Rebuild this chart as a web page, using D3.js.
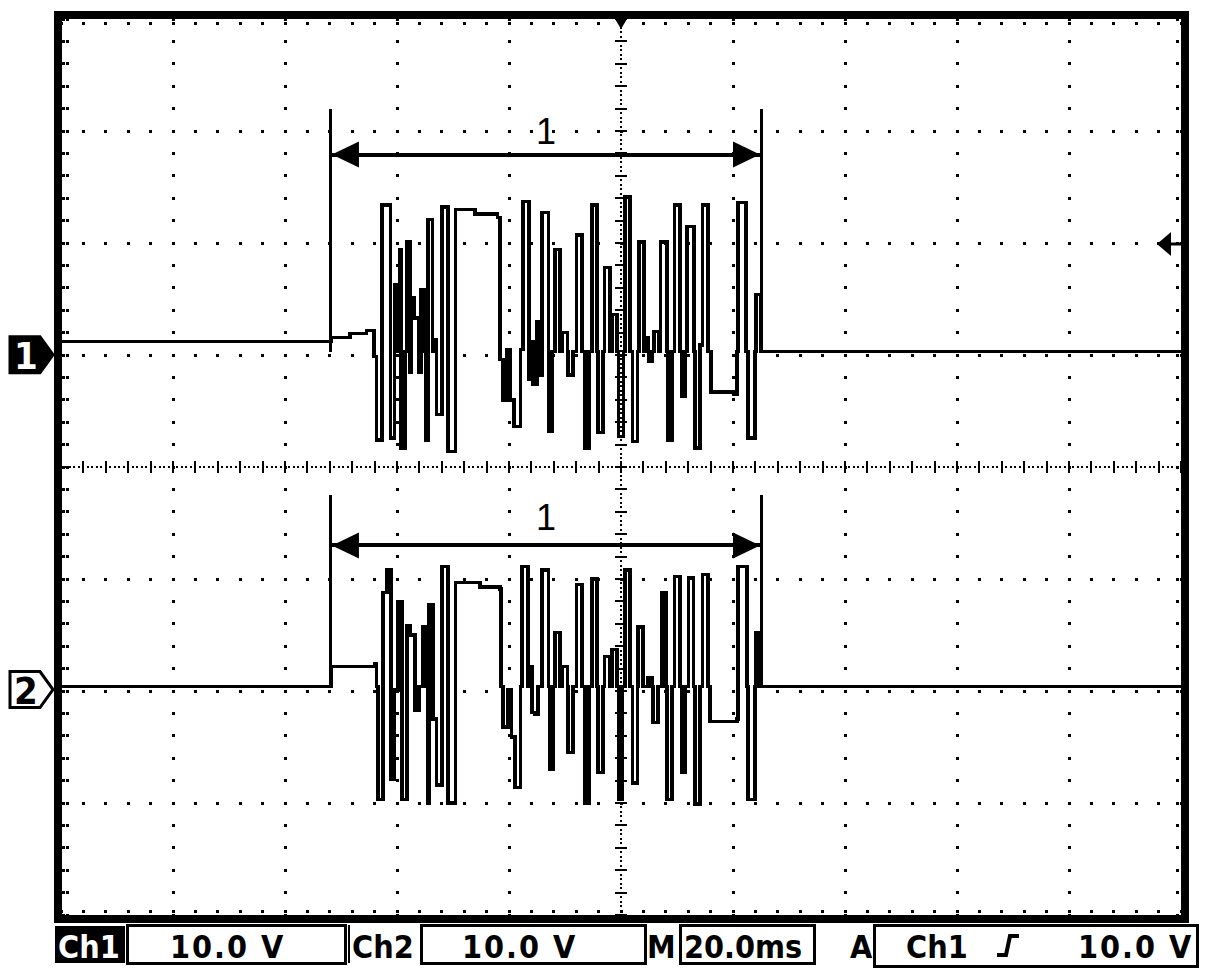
<!DOCTYPE html>
<html><head><meta charset="utf-8">
<script src="https://cdn.jsdelivr.net/npm/d3@7"></script>
<style>html,body{margin:0;padding:0;background:#fff;}svg{display:block;}</style>
</head><body>
<script>
// ---- data (time in ms, voltage in V) ----
const ch1Time = [0,48.2,51.6,54.5,55.9,56.3,57.3,58.8,59.5,60.0,60.4,60.7,61.4,61.8,62.3,62.5,63.0,63.8,64.3,64.8,65.2,65.5,66.3,66.6,67.0,68.0,69.1,70.4,73.9,77.9,78.4,78.9,79.6,80.2,80.9,82.0,82.5,83.6,83.9,84.3,85.0,85.5,85.9,87.0,87.7,88.2,89.1,89.5,90.4,90.5,91.4,92.1,93.0,93.6,94.3,94.8,95.7,95.9,96.8,97.1,98.0,98.4,99.3,99.5,100.4,100.7,101.6,102.0,102.9,103.2,104.1,104.3,104.8,105.0,105.5,105.9,106.8,107.0,108.2,108.4,109.1,109.5,110.5,110.9,111.4,111.8,113.0,113.2,114.1,114.5,115.5,116.1,120.2,120.7,120.9,122.3,122.7,123.9,124.1,125.0,200];
const ch1Volt = [0.9,1.25,1.6,1.9,-0.45,-7.9,13.1,-7.7,6.0,0,9.1,-8.6,0,9.8,-1.8,4.8,3.0,-1.8,5.5,0,-7.9,11.8,0,1.1,-5.6,12.9,-8.9,12.7,12.3,12.0,-0.7,-4.3,0.2,-4.3,-6.7,0.2,13.4,-2.5,0.9,-2.9,2.7,-2.1,12.4,-7.1,0,9.1,0,1.7,0,-2.1,0,10.4,0,-8.6,0,13.1,0,-7.2,0,7.5,0,3.3,0,-7.6,0,13.8,0,-8.0,0,9.8,0,1.25,0,-0.9,0,1.8,0,9.8,0,-7.9,0,13.1,0,-4.0,0,11.2,0,-8.6,0.6,13.1,0,-3.6,-3.8,0,13.3,0,-7.7,0,5.1,0,0];
const ch2Time = [0,48.2,56.1,56.3,56.6,57.5,58.2,58.9,59.6,60.2,60.9,61.8,62.3,63.2,63.9,64.5,65.2,65.4,65.7,66.4,67.1,68.0,69.1,70.4,74.8,78.4,78.6,78.9,79.8,80.4,81.1,82.0,82.3,83.4,83.8,84.1,84.6,85.2,85.9,87.0,87.3,87.9,88.2,89.1,89.5,90.4,90.5,91.4,92.1,93.0,93.6,94.3,94.8,95.7,95.9,96.8,97.1,98.0,98.4,99.3,99.5,100.2,100.7,101.6,102.0,102.9,103.0,103.9,104.8,105.5,105.7,106.6,107.3,108.0,108.2,109.1,109.6,110.5,110.9,111.4,112.0,112.9,113.2,114.1,114.5,115.5,115.9,120.7,120.9,122.5,122.7,123.9,124.1,124.8,200];
const ch2Volt = [0,1.8,2.0,0,-10.1,8.4,10.4,-8.3,-0.3,7.6,-10.1,5.4,4.6,-2.1,0,5.3,0,-10.4,7.3,-2.9,-8.8,10.7,-10.4,9.3,8.9,8.7,0,-3.6,-0.3,-4.5,-9.0,0,10.7,0,1.8,-2.3,-2.5,0,10.4,0,-7.4,0,4.8,0,1.8,0,-5.9,0,9.1,0,-10.4,0,9.6,0,-7.7,0,2.7,0,3.3,0,-10.1,0,10.4,0,-8.6,0,5.3,0,0.8,0,-3.2,0,8.4,0,-10.1,0,9.8,0,-7.7,0,9.7,0,-10.5,0,10.0,0,-3.1,-2.9,10.7,0,-10.1,0,4.8,0,0];
const channelNames = ["Ch1","Ch2"];
const voltsPerDiv = [10,10];
const positionDiv = [1.03,-1.96];
const cursorMs = [48.2,125.0];
const cursorLabel = "1";
const statusLabels = ["Ch1","10.0 V","Ch2","10.0 V","M","20.0ms","A","Ch1","10.0 V"];
const timeRangeMs = [0,200];
const divRange = [-4,4];

// ---- layout ----
const W=1216,H=978;
const svg=d3.select("body").append("svg").attr("width",W).attr("height",H);
svg.append("rect").attr("width",W).attr("height",H).attr("fill","#fff");
const x=d3.scaleLinear().domain(timeRangeMs).range([61,1181]);
const y=d3.scaleLinear().domain(divRange).range([915,19]);
const g=svg.append("g").attr("shape-rendering","crispEdges");

// graticule
const minorX=d3.range(0,200.01,4), minorY=d3.range(-4,4.001,0.2);
const dots=[];
for(let k=1;k<=9;k++){ if(k===5) continue; const t=k*20; minorY.forEach(d=>dots.push([x(t)-1.5,y(d)-1.5,3,3])); }
for(let k=-3;k<=3;k++){ if(k===0) continue; minorX.forEach(t=>dots.push([x(t)-1.5,y(k)-1.5,3,3])); }
// center lines dense dots
d3.range(-4,4.001,0.04).forEach(d=>dots.push([x(100)-1,y(d)-1,2,2]));
d3.range(0,200.01,0.8).forEach(t=>dots.push([x(t)-1,y(0)-1,2,2]));
minorY.forEach(d=>dots.push([x(100)-6,y(d)-1,12,2]));
minorX.forEach(t=>dots.push([x(t)-1,y(0)-6,2,12]));
// border ticks
minorY.forEach(d=>{dots.push([62,y(d)-1.5,3,3]);dots.push([66,y(d)-1.5,3,3]);dots.push([1176,y(d)-1.5,3,3]);});
minorX.forEach(t=>{dots.push([x(t)-1.5,22,3,3]);dots.push([x(t)-1.5,910,3,3]);});
g.selectAll("rect.dot").data(dots).join("rect").attr("class","dot")
 .attr("x",d=>d[0]).attr("y",d=>d[1]).attr("width",d=>d[2]).attr("height",d=>d[3]).attr("fill","#000");

// frame
svg.append("rect").attr("x",57.5).attr("y",15).attr("width",1127.5).attr("height",904)
 .attr("fill","none").attr("stroke","#000").attr("stroke-width",8).attr("shape-rendering","crispEdges");

// trigger markers
svg.append("path").attr("d",`M${x(100)-6},19 L${x(100)+6},19 L${x(100)},29 Z`).attr("fill","#000");
const trigY=244;
svg.append("path").attr("d",`M1157,${trigY} L1171,${trigY-12} L1171,${trigY+12} Z`).attr("fill","#000");
svg.append("line").attr("x1",1170).attr("x2",1181).attr("y1",trigY).attr("y2",trigY).attr("stroke","#000").attr("stroke-width",3);

// traces
const series=[ch1Time.map((t,i)=>[t,ch1Volt[i]]), ch2Time.map((t,i)=>[t,ch2Volt[i]])];
series.forEach((s,ci)=>{
  const line=d3.line().x(d=>x(d[0])).y(d=>y(d[1]/voltsPerDiv[ci]+positionDiv[ci])).curve(d3.curveStepAfter);
  svg.append("path").attr("d",line(s)).attr("fill","none").attr("stroke","#000").attr("stroke-width",3.4)
    .attr("stroke-linejoin","miter").attr("shape-rendering","crispEdges");
});

// cursor brackets
const cursorTop=[3.2,-0.25], arrowDiv=[2.79,-0.70], labelDiv=[3.0,-0.45];
[0,1].forEach(ci=>{
  const base=y(positionDiv[ci]);
  cursorMs.forEach(t=>{
    svg.append("line").attr("x1",x(t)).attr("x2",x(t)).attr("y1",y(cursorTop[ci])).attr("y2",base)
      .attr("stroke","#000").attr("stroke-width",3).attr("shape-rendering","crispEdges");
  });
  const ay=y(arrowDiv[ci]), x0=x(cursorMs[0])+1, x1=x(cursorMs[1])-1;
  svg.append("line").attr("x1",x0).attr("x2",x1).attr("y1",ay).attr("y2",ay).attr("stroke","#000").attr("stroke-width",4).attr("shape-rendering","crispEdges");
  svg.append("path").attr("d",`M${x0},${ay} L${x0+27},${ay-13} L${x0+27},${ay+13} Z`).attr("fill","#000");
  svg.append("path").attr("d",`M${x1},${ay} L${x1-27},${ay-13} L${x1-27},${ay+13} Z`).attr("fill","#000");
  svg.append("text").attr("x",x((cursorMs[0]+cursorMs[1])/2)).attr("y",y(labelDiv[ci])+13)
    .attr("text-anchor","middle").attr("font-family","Liberation Sans, Arial, sans-serif")
    .attr("font-size",36).text(cursorLabel);
});

// channel ground markers
[0,1].forEach(ci=>{
  const cy=y(positionDiv[ci])+3;
  const p=`M10,${cy-18} L40,${cy-18} L53,${cy} L40,${cy+18} L10,${cy+18} Z`;
  svg.append("path").attr("d",p).attr("fill",ci===0?"#000":"#fff").attr("stroke","#000").attr("stroke-width",3);
  svg.append("text").attr("x",26).attr("y",cy+14).attr("text-anchor","middle")
    .attr("font-family","DejaVu Sans Condensed, DejaVu Sans, sans-serif").attr("font-weight","bold").attr("font-size",38)
    .attr("fill",ci===0?"#fff":"#000").text(ci===0?"1":"2");
});

// status bar
const fnt="DejaVu Sans Condensed, DejaVu Sans, sans-serif";
function box(x0,x1,y0,y1){svg.append("rect").attr("x",x0).attr("y",y0).attr("width",x1-x0).attr("height",y1-y0).attr("fill","none").attr("stroke","#000").attr("stroke-width",3).attr("shape-rendering","crispEdges");}
function txt(s,xx,col,ls){svg.append("text").attr("x",xx).attr("y",958).attr("font-family",fnt).attr("font-weight","bold")
 .attr("font-size",32).attr("letter-spacing",ls==null?2:ls).attr("fill",col||"#000").text(s);}
svg.append("rect").attr("x",55).attr("y",926).attr("width",70).attr("height",37).attr("fill","#000");
txt(statusLabels[0],58,"#fff",0);
box(127,345,925,963); txt(statusLabels[1],170,"#000",2);
svg.append("line").attr("x1",349).attr("x2",349).attr("y1",925).attr("y2",963).attr("stroke","#000").attr("stroke-width",2);
txt(statusLabels[2],352,"#000",0);
box(421,645,925,963); txt(statusLabels[3],462,"#000",2);
txt(statusLabels[4],647,"#000",0);
box(680,814,925,963); txt(statusLabels[5],684,"#000",0);
txt(statusLabels[6],850,"#000",0);
box(874,1197,925,966); txt(statusLabels[7],906,"#000",0);
svg.append("path").attr("d","M997,955 L1006,955 L1010,936 L1019,936").attr("fill","none").attr("stroke","#000").attr("stroke-width",4);
txt(statusLabels[8],1078,"#000",2);
</script>
</body></html>
